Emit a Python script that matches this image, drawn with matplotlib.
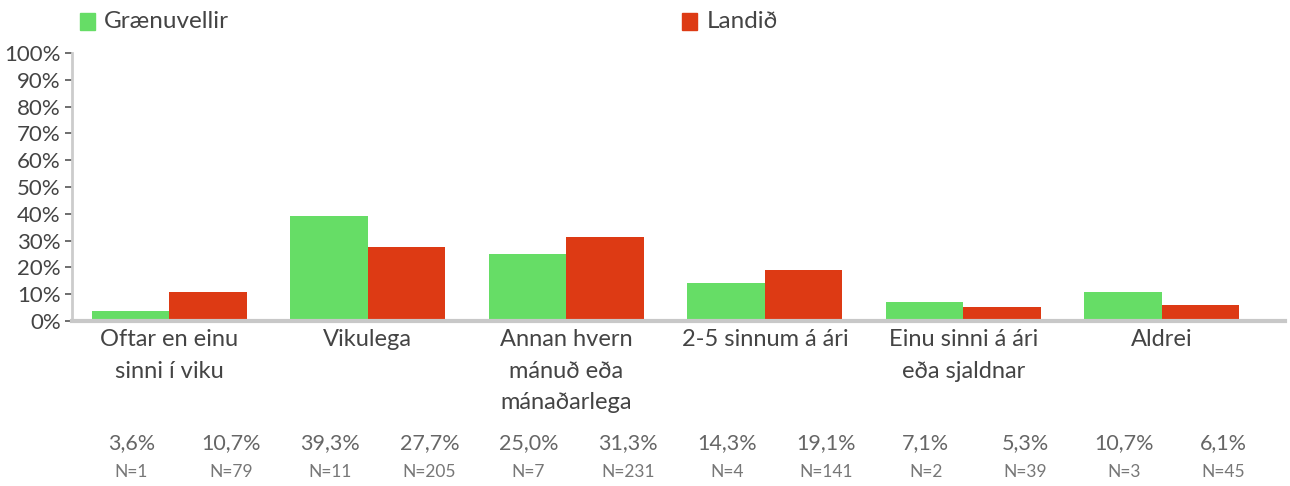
import matplotlib.pyplot as plt

# Tíðni - Grænuvellir borið saman við landið
flokkar = ["Oftar en einu\nsinni í viku", "Vikulega", "Annan hvern\nmánuð eða\nmánaðarlega",
           "2-5 sinnum á ári", "Einu sinni á ári\neða sjaldnar", "Aldrei"]
graenuvellir = [3.6, 39.3, 25.0, 14.3, 7.1, 10.7]
landid = [10.7, 27.7, 31.3, 19.1, 5.3, 6.1]
n_graenuvellir = [1, 11, 7, 4, 2, 3]
n_landid = [79, 205, 231, 141, 39, 45]
y_merki = list(range(0, 101, 10))

graenn = "#66dd66"
raudur = "#dd3a14"

plt.rcParams['font.family'] = ['Lato', 'DejaVu Sans']

fig = plt.figure(figsize=(12.9, 4.86), dpi=100)
ax = fig.add_axes([72 / 1290, (486 - 321) / 486, (1285 - 72) / 1290, (321 - 53) / 486])

breidd = 0.39
x = list(range(len(flokkar)))
ax.bar([i - breidd / 2 for i in x], graenuvellir, width=breidd, color=graenn, label="Grænuvellir")
ax.bar([i + breidd / 2 for i in x], landid, width=breidd, color=raudur, label="Landið")

ax.set_xlim(-0.49, 5.62)
ax.set_ylim(0, 100)
ax.set_yticks(y_merki)
ax.set_yticklabels([f"{v}%" for v in y_merki], fontsize=16, color="#444444")
ax.tick_params(axis="y", length=5, width=1.2, color="#555555", pad=3)
ax.set_xticks(x)
ax.set_xticklabels(flokkar, fontsize=17, color="#444444", linespacing=1.6, va="top")
ax.tick_params(axis="x", length=0, pad=6)

for s in ["top", "right"]:
    ax.spines[s].set_visible(False)
ax.spines["left"].set_color("#cccccc")
ax.spines["left"].set_linewidth(2)
ax.spines["bottom"].set_color("#c8c8c8")
ax.spines["bottom"].set_linewidth(3)

# prósentur og fjöldi í jöfnum dálkum undir hverjum flokki
for i in x:
    for dx, v, n in [(-0.19, graenuvellir[i], n_graenuvellir[i]),
                     (0.31, landid[i], n_landid[i])]:
        xp = i + dx
        ax.text(xp, -45.5, f"{v:.1f}%".replace(".", ","), ha="center", va="center",
                fontsize=15.5, color="#666666", clip_on=False)
        ax.text(xp, -56.5, f"N={n}", ha="center", va="center",
                fontsize=12.5, color="#777777", clip_on=False)

# skýringar efst
fig.patches.append(plt.Rectangle((80 / 1290, 1 - 30 / 486), 15 / 1290, 17 / 486,
                                 color=graenn, transform=fig.transFigure))
fig.text(104 / 1290, 1 - 21 / 486, "Grænuvellir", fontsize=17.5, color="#444444", va="center")
fig.patches.append(plt.Rectangle((682 / 1290, 1 - 30 / 486), 15 / 1290, 17 / 486,
                                 color=raudur, transform=fig.transFigure))
fig.text(707 / 1290, 1 - 21 / 486, "Landið", fontsize=17.5, color="#444444", va="center")

fig.savefig("out.png", dpi=100)
